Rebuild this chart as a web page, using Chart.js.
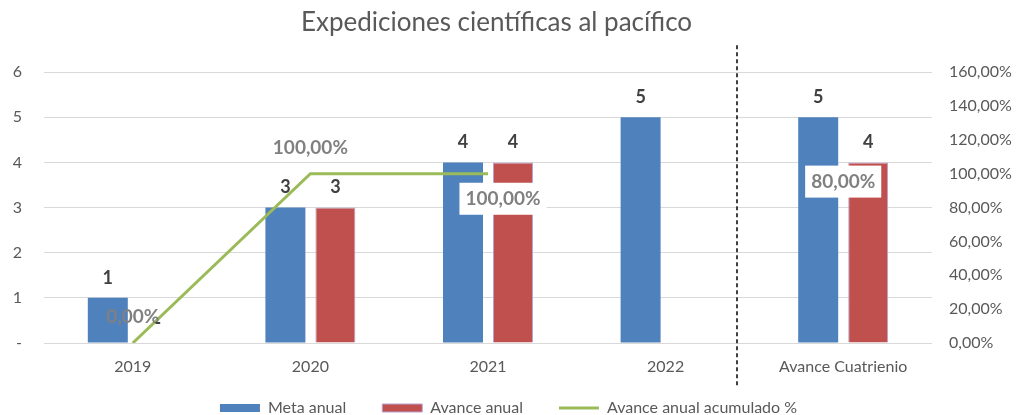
<!DOCTYPE html>
<html>
<head>
<meta charset="utf-8">
<script src="https://cdn.jsdelivr.net/npm/chart.js@4.4.1/dist/chart.umd.min.js"></script>
<style>
  html, body { margin: 0; padding: 0; background: #fff; }
  #wrap { width: 1017px; height: 415px; }
</style>
</head>
<body>
<div id="wrap"><canvas id="chart" width="1017" height="415"></canvas></div>
<script>
// chart data
const categories = ['2019', '2020', '2021', '2022', 'Avance Cuatrienio'];
const metaAnual = [1, 3, 4, 5, 5];
const avanceAnual = [0, 3, 4, null, 4];
const avanceAcumulado = [0, 1, 1, null, 0.8];   // fraction, shown as %

// where the % labels sit around their point
const pctLabelAbove = [true, true, false, true, true];
const pctLabelShift = [0, 0, 15, 0, 0];
const pctLabelBox = [false, false, true, false, true];

const FONT = 'Lato';
const GREY = '#595959';

function fmtPct(v) {
    return (v * 100).toFixed(2).replace('.', ',') + '%';
}

// value labels over bars and line points
const valueLabels = {
    id: 'valueLabels',
    afterDatasetsDraw(chart) {
        const ctx = chart.ctx;
        ctx.save();
        ctx.textAlign = 'center';
        ctx.textBaseline = 'middle';
        chart.data.datasets.forEach((ds, di) => {
            const meta = chart.getDatasetMeta(di);
            meta.data.forEach((el, i) => {
                const v = ds.data[i];
                if (v === null || v === undefined) return;
                if (ds.type === 'line') {
                    const txt = fmtPct(v);
                    const x = el.x + pctLabelShift[i];
                    const y = el.y + (pctLabelAbove[i] ? -26 : 25);
                    ctx.font = 'bold 19px ' + FONT;
                    if (pctLabelBox[i]) {
                        const w = ctx.measureText(txt).width + 12;
                        ctx.fillStyle = '#fff';
                        ctx.fillRect(x - w / 2, y - 16, w, 32);
                    }
                    ctx.fillStyle = '#808080';
                    ctx.fillText(txt, x, y);
                } else {
                    ctx.font = 'bold 18px ' + FONT;
                    ctx.fillStyle = '#404040';
                    ctx.fillText(v === 0 ? '-' : String(v), el.x, el.y - 20);
                }
            });
        });
        ctx.restore();
    }
};

// dashed separator before the four-year column
const separator = {
    id: 'separator',
    afterDraw(chart) {
        const xs = chart.scales.x;
        const a = xs.getPixelForValue(3);
        const b = xs.getPixelForValue(4);
        const x = Math.round(a + (b - a) * 0.4);
        const area = chart.chartArea;
        const ctx = chart.ctx;
        ctx.save();
        ctx.strokeStyle = '#404040';
        ctx.lineWidth = 2;
        ctx.setLineDash([4, 3]);
        ctx.beginPath();
        ctx.moveTo(x, area.top - 27);
        ctx.lineTo(x, area.bottom + 45);
        ctx.stroke();
        ctx.restore();
    }
};

// let the legend box overlap the axis labels so its wide item gaps don't push it down,
// and nudge the title a little left like the original
const boxTweaks = {
    id: 'boxTweaks',
    afterLayout(chart) {
        const lg = chart.legend;
        lg.top = lg.bottom - 51;
        lg.height = 51;
        chart.titleBlock.right = chart.width - 24;
    }
};

new Chart(document.getElementById('chart'), {
    data: {
        labels: categories,
        datasets: [
            {
                type: 'line',
                label: 'Avance anual acumulado %',
                data: avanceAcumulado,
                yAxisID: 'y1',
                borderColor: '#9bbb59',
                backgroundColor: '#9bbb59',
                borderWidth: 3,
                pointRadius: 0,
                pointStyle: 'line',
                spanGaps: false,
                order: 0
            },
            {
                type: 'bar',
                label: 'Meta anual',
                data: metaAnual,
                yAxisID: 'y',
                backgroundColor: '#4f81bd',
                borderWidth: 0,
                pointStyle: 'rect',
                categoryPercentage: 0.563,
                barPercentage: 0.8,
                order: 1
            },
            {
                type: 'bar',
                label: 'Avance anual',
                data: avanceAnual,
                yAxisID: 'y',
                backgroundColor: '#c0504d',
                borderColor: '#b7a2d2',
                borderWidth: 1,
                pointStyle: 'rect',
                categoryPercentage: 0.563,
                barPercentage: 0.8,
                order: 1
            }
        ]
    },
    options: {
        responsive: false,
        animation: false,
        layout: { padding: 0 },
        plugins: {
            title: {
                display: true,
                text: 'Expediciones científicas al pacífico',
                color: GREY,
                font: { family: FONT, size: 26, weight: 'normal' },
                padding: { top: 7, bottom: 34 }
            },
            legend: {
                position: 'bottom',
                maxHeight: 32,
                labels: {
                    usePointStyle: true,
                    pointStyleWidth: 40,
                    boxHeight: 8,
                    padding: 36,
                    color: GREY,
                    font: { family: FONT, size: 16 },
                    sort: (a, b) => {
                        const rank = [2, 0, 1];
                        return rank[a.datasetIndex] - rank[b.datasetIndex];
                    }
                }
            },
            tooltip: { enabled: false }
        },
        scales: {
            x: {
                grid: { display: false, drawTicks: false },
                border: { display: false },
                ticks: { color: GREY, font: { family: FONT, size: 16 }, padding: 14 },
                afterFit: (s) => { s.height = 40; }
            },
            y: {
                position: 'left',
                min: 0,
                max: 6,
                ticks: {
                    stepSize: 1,
                    color: GREY,
                    padding: 22,
                    font: { family: FONT, size: 16 },
                    callback: (v) => v === 0 ? '-' : v
                },
                grid: { color: '#d9d9d9', lineWidth: 1, drawTicks: false },
                border: { display: false },
                afterFit: (s) => { s.width = 44; }
            },
            y1: {
                position: 'right',
                min: 0,
                max: 1.6,
                ticks: {
                    stepSize: 0.2,
                    color: GREY,
                    padding: 17,
                    font: { family: FONT, size: 16 },
                    callback: (v) => fmtPct(v)
                },
                grid: { display: false, drawTicks: false },
                border: { display: false },
                afterFit: (s) => { s.width = 85; }
            }
        }
    },
    plugins: [valueLabels, separator, boxTweaks]
});
</script>
</body>
</html>
